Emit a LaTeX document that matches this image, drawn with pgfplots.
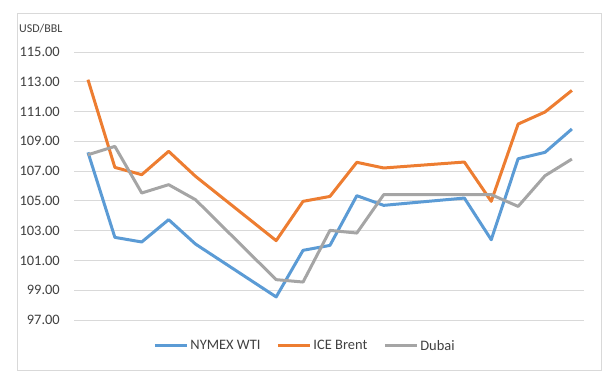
\documentclass[border=0pt]{standalone}
\usepackage{pgfplots}
\pgfplotsset{compat=1.18}
\usepackage{fontspec}
\setmainfont{Carlito}
\definecolor{cblue}{HTML}{5B9BD5}
\definecolor{corange}{HTML}{ED7D31}
\definecolor{cgray}{HTML}{A5A5A5}
\definecolor{cgrid}{HTML}{D9D9D9}
\definecolor{ctext}{HTML}{404040}
\begin{document}
\begin{tikzpicture}
\useasboundingbox (0,0) rectangle (612bp,377bp);
\draw[cgrid, line width=0.8bp] (17bp,7bp) rectangle (601bp,364bp);
\node[anchor=west, inner sep=0pt, font=\fontsize{12}{13}\selectfont, text=ctext] at (19bp,348bp) {USD/BBL};
\begin{axis}[
  at={(74bp,57bp)}, anchor=south west,
  scale only axis, width=510bp, height=268bp,
  xmin=-0.52, xmax=18.45, ymin=97, ymax=115,
  xtick=\empty,
  ytick={97,99,...,115},
  ymajorgrids, major grid style={cgrid, line width=0.8bp},
  axis line style={draw=none}, tick style={draw=none},
  yticklabel style={/pgf/number format/fixed, /pgf/number format/fixed zerofill, /pgf/number format/precision=2, /pgf/number format/assume math mode=true,
    font=\fontsize{14.5}{15}\selectfont, text=ctext, anchor=east, inner sep=0pt, xshift=-14bp},
  legend columns=3,
  legend style={at={(0.453,-0.097)}, anchor=center, draw=none, fill=none, font=\fontsize{14.5}{15}\selectfont, text=ctext,
    inner sep=0pt, nodes={inner sep=2bp},
    /tikz/every even column/.append style={column sep=14bp}},
  legend image code/.code={\draw[#1, line width=3bp] (0bp,0bp) -- (32bp,0bp);},
  every axis plot/.append style={line width=3bp, line join=round, mark=none},
]
\addplot[cblue] coordinates {
(0,108.26) (1,102.55) (2,102.24) (3,103.74) (4,102.10) (7,98.55) (8,101.68) (9,102.01) (10,105.35) (11,104.70) (14,105.19) (15,102.39) (16,107.83) (17,108.26) (18,109.83)};
\addlegendentry{NYMEX WTI}
\addplot[corange] coordinates {
(0,113.14) (1,107.25) (2,106.76) (3,108.33) (4,106.65) (7,102.33) (8,104.97) (9,105.30) (10,107.59) (11,107.21) (14,107.61) (15,104.97) (16,110.16) (17,110.97) (18,112.42)};
\addlegendentry{ICE Brent}
\addplot[cgray] coordinates {
(0,108.10) (1,108.66) (2,105.53) (3,106.09) (4,105.08) (7,99.71) (8,99.55) (9,103.02) (10,102.84) (11,105.42) (14,105.42) (15,105.42) (16,104.63) (17,106.69) (18,107.81)};
\addlegendentry{Dubai}
\end{axis}
\end{tikzpicture}
\end{document}
